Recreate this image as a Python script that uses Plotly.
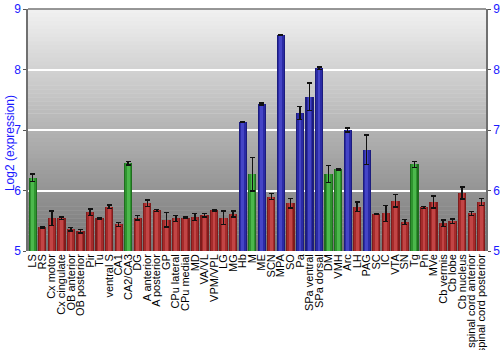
import plotly.graph_objects as go

categories = ["LS", "RS", "Cx motor", "Cx cingulate", "OB anterior", "OB posterior", "Pir", "Tu",
              "ventral S", "CA1", "CA2/CA3", "DG", "A anterior", "A posterior", "GP", "CPu lateral",
              "CPu medial", "MD", "VA/VL", "VPM/VPL", "LG", "MG", "Hb", "M", "ME", "SCN", "MPA", "SO",
              "Pa", "SPa ventral", "SPa dorsal", "DM", "VMH", "Arc", "LH", "PAG", "SC", "IC", "VTA",
              "SN", "Tg", "Pn", "MVe", "Cb vermis", "Cb lobe", "Cb nucleus", "spinal cord anterior",
              "spinal cord posterior"]
values = [6.21, 5.39, 5.54, 5.54, 5.36, 5.33, 5.64, 5.54, 5.73, 5.44, 6.45, 5.55, 5.79, 5.67, 5.52,
          5.54, 5.55, 5.56, 5.59, 5.67, 5.55, 5.61, 7.13, 6.27, 7.43, 5.90, 8.57, 5.79, 7.28, 7.55,
          8.02, 6.27, 6.35, 7.00, 5.73, 6.67, 5.61, 5.62, 5.83, 5.48, 6.43, 5.72, 5.81, 5.46, 5.49,
          5.96, 5.62, 5.81]
errors = [0.065, 0.01, 0.12, 0.02, 0.03, 0.03, 0.055, 0.01, 0.03, 0.03, 0.03, 0.04, 0.05, 0.02, 0.12,
          0.05, 0.01, 0.055, 0.03, 0.01, 0.11, 0.05, 0.01, 0.28, 0.015, 0.05, 0.005, 0.08, 0.105, 0.23,
          0.02, 0.14, 0.01, 0.03, 0.08, 0.245, 0.01, 0.13, 0.1, 0.045, 0.045, 0.015, 0.1, 0.05, 0.04,
          0.1, 0.035, 0.06]
groups = ["g", "r", "r", "r", "r", "r", "r", "r", "r", "r", "g", "r", "r", "r", "r", "r", "r", "r",
          "r", "r", "r", "r", "b", "g", "b", "r", "b", "r", "b", "b", "b", "g", "g", "b", "r", "b",
          "r", "r", "r", "r", "g", "r", "r", "r", "r", "r", "r", "r"]
y_ticks = [5, 6, 7, 8, 9]
y_title = "Log2 (expression)"

BASE = 5
shades = {
    "r": ["#7e1c1c", "#a52b2b", "#c24545"],
    "g": ["#1f6e1f", "#2f942f", "#4cb84c"],
    "b": ["#1c1c7e", "#2b2ba5", "#4545c6"],
}
widths = [0.87, 0.62, 0.3]

fig = go.Figure()
heights = [v - BASE for v in values]
for layer in range(3):
    cols = [shades[g][layer] for g in groups]
    last = layer == 2
    fig.add_trace(go.Bar(
        x=categories, y=heights, base=BASE, width=widths[layer],
        marker=dict(color=cols, line=dict(width=0)),
        error_y=dict(type="data", array=errors, color="#111111", thickness=1.4, width=2.5,
                     visible=True) if last else dict(visible=False),
        showlegend=False, hoverinfo="skip",
    ))

# invisible trace for right axis
fig.add_trace(go.Scatter(x=[categories[0]], y=[BASE], yaxis="y2", mode="markers",
                         marker=dict(opacity=0), showlegend=False, hoverinfo="skip"))

# background vertical gradient bands
n = 60
top = (0xf0, 0xf0, 0xf0)
bot = (0x76, 0x76, 0x76)
shapes = []
for i in range(n):
    t = i / (n - 1)
    c = tuple(int(round(bot[k] + (top[k] - bot[k]) * t)) for k in range(3))
    shapes.append(dict(type="rect", xref="paper", yref="paper", x0=0, x1=1,
                       y0=i / n, y1=(i + 1) / n + 0.002, layer="below",
                       line=dict(width=0), fillcolor="rgb(%d,%d,%d)" % c))
shapes.append(dict(type="line", xref="paper", yref="paper", x0=0, x1=1, y0=1, y1=1,
                   line=dict(color="#777777", width=1.5)))

font = "Liberation Sans, Arial, sans-serif"
fig.update_layout(
    width=500, height=350,
    margin=dict(l=28, r=14, t=9, b=99),
    paper_bgcolor="white", plot_bgcolor="rgba(0,0,0,0)",
    barmode="overlay", bargap=0,
    shapes=shapes,
    font=dict(family=font, size=11, color="black"),
    annotations=[dict(text=y_title, xref="paper", yref="paper", x=-0.0393, y=0.446,
                      textangle=-90, showarrow=False, xanchor="center", yanchor="middle",
                      font=dict(size=12, color="#1a1aff", family=font))],
    xaxis=dict(tickangle=-90, tickfont=dict(size=11, color="black", family=font),
               tickmode="array", tickvals=categories, ticktext=categories,
               showgrid=False, showline=False, ticks="", zeroline=False, automargin=False,
               range=[-0.5, len(categories) - 0.5]),
    yaxis=dict(range=[5, 9], tickvals=y_ticks, tickfont=dict(size=12, color="#1a1aff"),
               gridcolor="white", gridwidth=1.5, showline=True, linecolor="#707070",
               linewidth=1.5, ticks="outside", ticklen=3, tickcolor="#555555",
               zeroline=False, automargin=False),
    yaxis2=dict(range=[5, 9], tickvals=y_ticks, overlaying="y", side="right",
                tickfont=dict(size=12, color="#1a1aff"), showgrid=False, showline=True,
                linecolor="#707070", linewidth=1.5, ticks="outside", ticklen=3,
                tickcolor="#555555", zeroline=False, automargin=False),
)

fig.write_html("out.html")
